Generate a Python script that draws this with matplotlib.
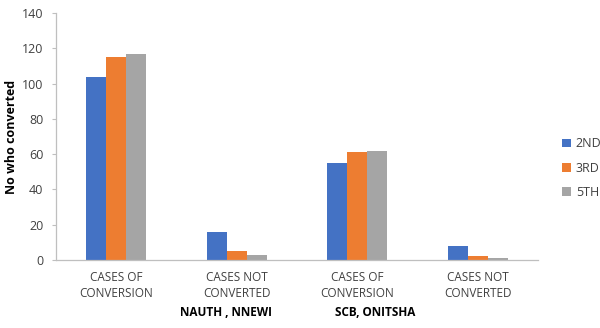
import matplotlib
matplotlib.use("Agg")
import matplotlib.pyplot as plt
import numpy as np

categories = ["CASES OF\nCONVERSION", "CASES NOT\nCONVERTED", "CASES OF\nCONVERSION", "CASES NOT\nCONVERTED"]
sites = ["NAUTH , NNEWI", "SCB, ONITSHA"]
series = ["2ND", "3RD", "5TH"]
v_2nd = [104, 16, 55, 8]
v_3rd = [115, 5, 61, 2]
v_5th = [117, 3, 62, 1]
colors = ["#4472C4", "#ED7D31", "#A5A5A5"]

plt.rcParams["font.family"] = ["Open Sans", "DejaVu Sans"]
TXT = "#404040"; AX = "#BFBFBF"

fig = plt.figure(figsize=(6, 3.28), dpi=100, facecolor="white")
ax = fig.add_axes([56/600, 1-260/328, 482/600, 247/328])

x = np.arange(len(categories)) + 0.5
w = 0.167
for i, (vals, name, c) in enumerate(zip([v_2nd, v_3rd, v_5th], series, colors)):
    ax.bar(x + (i-1)*w, vals, w, color=c, label=name)

ax.set_xlim(0, 4); ax.set_ylim(0, 140)
ax.set_yticks(range(0, 141, 20))
ax.set_xticks(x)
ax.set_xticklabels(categories, fontsize=8.5, color=TXT, linespacing=1.3)
ax.tick_params(axis="x", length=0, pad=8)
ax.tick_params(axis="y", length=3, color=AX, labelsize=9, labelcolor=TXT, pad=6)
for s in ["top", "right"]:
    ax.spines[s].set_visible(False)
for s in ["left", "bottom"]:
    ax.spines[s].set_color(AX); ax.spines[s].set_linewidth(0.9)
ax.set_ylabel("No who converted", fontsize=9, fontweight="bold", color="black", labelpad=3)

# site names under the category labels
for name, px in zip(sites, [226, 375]):
    fig.text(px/600, 1-312/328, name, ha="center", va="center", fontsize=8.5, fontweight="bold", color="black")

fig.legend(loc="center left", bbox_to_anchor=(557/600, 1-168/328), frameon=False,
           fontsize=9, labelcolor=TXT, handlelength=0.7, handleheight=0.7,
           handletextpad=0.4, labelspacing=0.9, borderaxespad=0)

fig.savefig("out.png", dpi=100, facecolor="white")
